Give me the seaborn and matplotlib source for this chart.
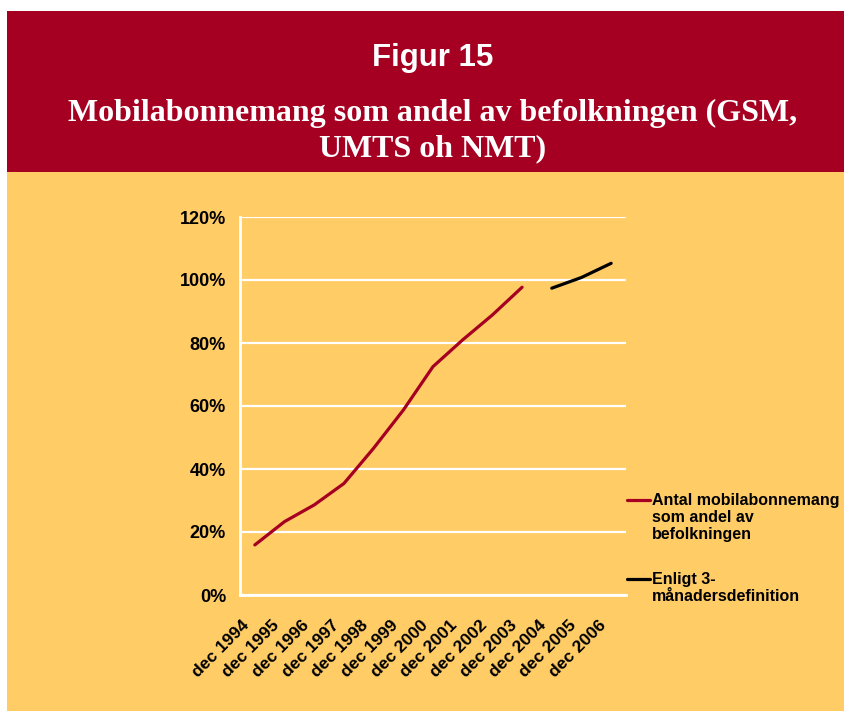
import numpy as np
import pandas as pd
import seaborn as sns
import matplotlib.pyplot as plt
from matplotlib.patches import Rectangle
from matplotlib.lines import Line2D
from matplotlib.transforms import ScaledTranslation

# data (andel av befolkningen, %)
years = ['dec 1994', 'dec 1995', 'dec 1996', 'dec 1997', 'dec 1998', 'dec 1999', 'dec 2000',
         'dec 2001', 'dec 2002', 'dec 2003', 'dec 2004', 'dec 2005', 'dec 2006']
antal = [15.9, 23.3, 28.6, 35.4, 46.6, 58.7, 72.5, 81.0, 88.9, 97.7, np.nan, np.nan, np.nan]
enligt3 = [np.nan] * 10 + [97.4, 100.8, 105.3]
serie_namn = ['Antal mobilabonnemang\nsom andel av\nbefolkningen', 'Enligt 3-\nmånadersdefinition']

RED = '#A50021'
YELLOW = '#FFCC66'

df = pd.DataFrame({
    'pos': list(range(len(years))) * 2,
    'varde': antal + enligt3,
    'serie': [serie_namn[0]] * len(years) + [serie_namn[1]] * len(years),
})

sns.set_style('white')
plt.rcParams['font.family'] = ['Liberation Sans', 'DejaVu Sans']
plt.rcParams['text.color'] = 'black'
plt.rcParams['xtick.labelcolor'] = 'black'
plt.rcParams['ytick.labelcolor'] = 'black'

fig = plt.figure(figsize=(8.45, 7.11), dpi=100, facecolor='white')
# bakgrund: gul ruta och röd rubrikruta
fig.add_artist(Rectangle((7 / 845, 0), 1, 1 - 11 / 711, transform=fig.transFigure,
                         facecolor=YELLOW, edgecolor='none', zorder=-2))
fig.add_artist(Rectangle((7 / 845, 1 - 172 / 711), 1, (172 - 11) / 711, transform=fig.transFigure,
                         facecolor=RED, edgecolor='none', zorder=-1))

fig.text(433 / 845, 1 - 58 / 711, 'Figur 15', ha='center', va='center', color='white',
         fontsize=22.5, fontweight='bold', family='Liberation Sans')
fig.text(433 / 845, 1 - 131 / 711, 'Mobilabonnemang som andel av befolkningen (GSM,\nUMTS oh NMT)',
         ha='center', va='center', color='white', fontsize=23, fontweight='bold',
         family='Liberation Serif', linespacing=1.25)

ax = fig.add_axes([240 / 845, 1 - 595 / 711, 386 / 845, 378 / 711])
ax.set_facecolor(YELLOW)
sns.lineplot(data=df, x='pos', y='varde', hue='serie', palette=[RED, 'black'],
             linewidth=2.3, legend=False, ax=ax)

ax.set_xlim(-0.5, len(years) - 0.5)
ax.set_ylim(0, 120)
ax.set_yticks(range(0, 121, 20))
ax.set_yticklabels([f'{v}%' for v in range(0, 121, 20)], fontsize=13, fontweight='bold')
ax.yaxis.grid(True, color='white', linewidth=1.6)
ax.set_xticks(range(len(years)))
ax.set_xticklabels(years, rotation=45, ha='right', rotation_mode='anchor',
                   fontsize=12.5, fontweight='bold')
ax.set_xticks(np.arange(-0.5, len(years) - 1, 1), minor=True)
ax.tick_params(axis='x', which='major', length=0, pad=14)
ax.tick_params(axis='x', which='minor', length=6, width=2, color='white', direction='out')
ax.tick_params(axis='y', length=6, width=2, color='white', direction='out', pad=4)
# etiketterna sitter lite till vänster om kategorins mitt
shift = ScaledTranslation(-13 / 100, -3 / 100, fig.dpi_scale_trans)
for lbl in ax.get_xticklabels():
    lbl.set_transform(lbl.get_transform() + shift)
ax.set_xlabel('')
ax.set_ylabel('')
for side in ['top', 'right']:
    ax.spines[side].set_visible(False)
for side in ['left', 'bottom']:
    ax.spines[side].set_color('white')
    ax.spines[side].set_linewidth(2)

# förklaring till höger
for color, namn, ytop in [(RED, serie_namn[0], 500), ('black', serie_namn[1], 579)]:
    fig.add_artist(Line2D([627 / 845, 650 / 845], [1 - ytop / 711] * 2,
                          transform=fig.transFigure, color=color, linewidth=2.3))
    fig.text(652 / 845, 1 - (ytop - 7) / 711, namn, ha='left', va='top', fontsize=11.5,
             fontweight='bold', linespacing=1.15, color='black')

fig.savefig('out.png', dpi=100, facecolor=fig.get_facecolor())
